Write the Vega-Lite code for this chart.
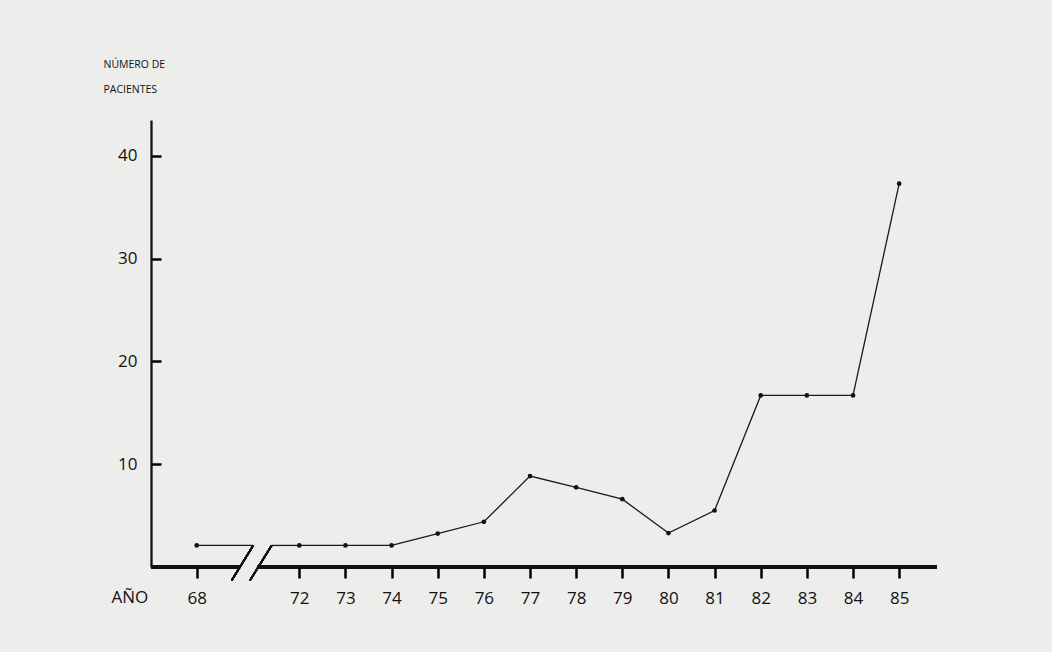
{
  "$schema": "https://vega.github.io/schema/vega-lite/v6.json",
  "autosize": "none",
  "width": 786,
  "height": 447,
  "padding": {"left": 151, "top": 120, "right": 115, "bottom": 85},
  "background": "#ededeb",
  "config": {
    "view": {"stroke": null},
    "font": "Open Sans"
  },
  "data": {
    "values": [
      {"year": 68, "pacientes": 2.1},
      {"year": 72, "pacientes": 2.1},
      {"year": 73, "pacientes": 2.1},
      {"year": 74, "pacientes": 2.1},
      {"year": 75, "pacientes": 3.25},
      {"year": 76, "pacientes": 4.4},
      {"year": 77, "pacientes": 8.85},
      {"year": 78, "pacientes": 7.75},
      {"year": 79, "pacientes": 6.6},
      {"year": 80, "pacientes": 3.3},
      {"year": 81, "pacientes": 5.5},
      {"year": 82, "pacientes": 16.7},
      {"year": 83, "pacientes": 16.7},
      {"year": 84, "pacientes": 16.7},
      {"year": 85, "pacientes": 37.3}
    ]
  },
  "encoding": {
    "x": {
      "field": "year",
      "type": "quantitative",
      "scale": {"domain": [67, 68, 72, 85.82], "range": [0, 45.7, 148.3, 786], "nice": false, "zero": false},
      "axis": {
        "values": [68, 72, 73, 74, 75, 76, 77, 78, 79, 80, 81, 82, 83, 84, 85],
        "format": "d",
        "grid": false,
        "domain": false,
        "ticks": true,
        "tickColor": "black",
        "tickOpacity": 1,
        "tickSize": 11,
        "tickWidth": 2.5,
        "labelPadding": 12,
        "labelFontSize": 17,
        "labelColor": "#111111",
        "labelFlush": false,
        "labelOverlap": false,
        "title": "AÑO",
        "titleColor": "#111111",
        "titleFontSize": 17,
        "titleFontWeight": "normal",
        "titleAnchor": "start",
        "titleAlign": "left",
        "titleBaseline": "alphabetic",
        "titleX": -40,
        "titleY": 35
      }
    },
    "y": {
      "field": "pacientes",
      "type": "quantitative",
      "scale": {"domain": [0, 43.5], "nice": false},
      "axis": {
        "values": [10, 20, 30, 40],
        "grid": false,
        "domainColor": "#111111",
        "domainWidth": 2.3,
        "ticks": true,
        "tickColor": "black",
        "tickOpacity": 1,
        "tickSize": -10,
        "tickWidth": 2.5,
        "labelPadding": 24,
        "labelFontSize": 17,
        "labelColor": "#111111",
        "title": ["NÚMERO DE", "PACIENTES"],
        "titleColor": "#111111",
        "titleFontSize": 10.5,
        "titleFontWeight": "normal",
        "titleAngle": 0,
        "titleAlign": "left",
        "titleBaseline": "alphabetic",
        "titleLineHeight": 25,
        "titleX": -48,
        "titleY": -53
      }
    }
  },
  "layer": [
    {
      "mark": {"type": "rule", "color": "#111111", "strokeWidth": 2.4},
      "encoding": {"x": {"datum": 67}, "x2": {"datum": 69.66}, "y": {"datum": 0}}
    },
    {
      "mark": {"type": "rule", "color": "#111111", "strokeWidth": 2.4},
      "encoding": {"x": {"datum": 70.374}, "x2": {"datum": 85.82}, "y": {"datum": 0}}
    },
    {
      "mark": {"type": "rule", "color": "#111111", "strokeWidth": 1.6},
      "encoding": {"x": {"datum": 69.364}, "x2": {"datum": 70.207}, "y": {"datum": -1.3}, "y2": {"datum": 2.1}}
    },
    {
      "mark": {"type": "rule", "color": "#111111", "strokeWidth": 1.6},
      "encoding": {"x": {"datum": 70.078}, "x2": {"datum": 70.924}, "y": {"datum": -1.3}, "y2": {"datum": 2.1}}
    },
    {
      "transform": [{"filter": "datum.year == 68"}],
      "mark": {"type": "rule", "color": "#1a1a1a", "strokeWidth": 1.3},
      "encoding": {"x2": {"datum": 70.207}}
    },
    {
      "transform": [{"filter": "datum.year == 72"}],
      "mark": {"type": "rule", "color": "#1a1a1a", "strokeWidth": 1.3},
      "encoding": {"x2": {"datum": 70.924}}
    },
    {
      "transform": [{"filter": "datum.year >= 72"}],
      "mark": {"type": "line", "color": "#1a1a1a", "strokeWidth": 1.3},
      "encoding": {}
    },
    {
      "mark": {"type": "point", "filled": true, "color": "#111111", "opacity": 1, "size": 22},
      "encoding": {}
    }
  ]
}
